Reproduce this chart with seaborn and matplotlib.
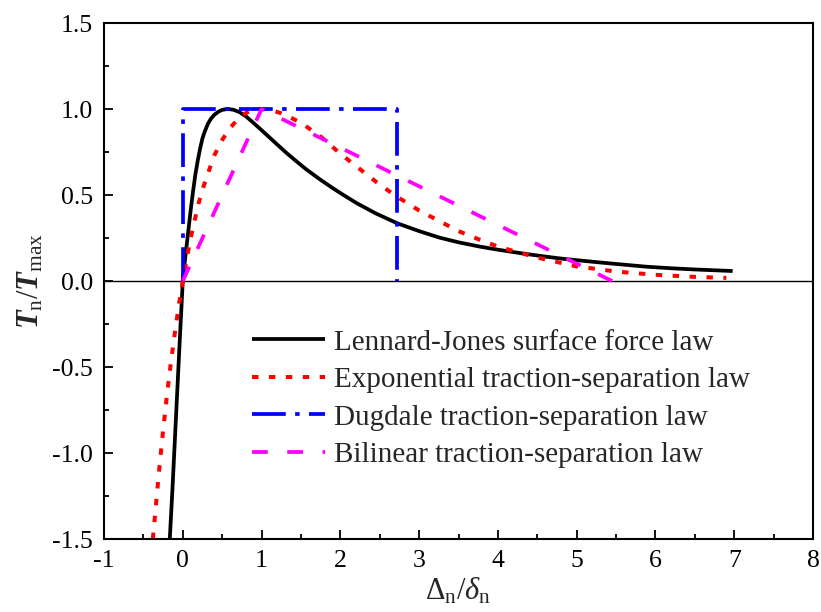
import matplotlib
matplotlib.use("Agg")
import matplotlib.pyplot as plt
import seaborn as sns
import pandas as pd
from matplotlib.ticker import MultipleLocator

# ---- data ----
lj_x = [-0.165, -0.13, -0.10, -0.07, -0.04, -0.02, 0.0, 0.03, 0.05, 0.08, 0.10, 0.13, 0.16,
        0.19, 0.22, 0.25, 0.28, 0.32, 0.36, 0.40, 0.45, 0.50, 0.57, 0.64, 0.72, 0.80, 0.89,
        1.00, 1.10, 1.20, 1.32, 1.45, 1.57, 1.75, 1.90, 2.05, 2.21, 2.45, 2.72, 3.00,
        3.26, 3.50, 3.77, 4.00, 4.30, 4.60, 4.83, 5.20, 5.50, 5.89, 6.20, 6.50, 6.98]
lj_y = [-1.50, -1.20, -0.92, -0.64, -0.36, -0.18, 0.0, 0.13, 0.21, 0.33, 0.41, 0.52, 0.62,
        0.70, 0.77, 0.83, 0.87, 0.915, 0.945, 0.966, 0.984, 0.995, 1.00, 0.996, 0.982, 0.958, 0.922,
        0.877, 0.835, 0.793, 0.743, 0.693, 0.648, 0.588, 0.541, 0.497, 0.452, 0.393, 0.336, 0.29,
        0.252, 0.225, 0.20, 0.182, 0.161, 0.142, 0.129, 0.112, 0.099, 0.083, 0.074, 0.067, 0.058]

exp_x = [-0.38, -0.34, -0.30, -0.25, -0.20, -0.15, -0.10, -0.05, 0.0, 0.05, 0.10, 0.15, 0.20,
         0.25, 0.30, 0.40, 0.50, 0.60, 0.70, 0.80, 0.87, 0.94, 1.00, 1.07, 1.15, 1.25, 1.37, 1.50,
         1.75, 2.00, 2.25, 2.50, 2.72, 3.00, 3.25, 3.50, 3.77, 4.00, 4.50, 5.00, 5.50, 6.00,
         6.50, 6.90]
exp_y = [-1.50, -1.30, -1.10, -0.87, -0.66, -0.47, -0.30, -0.14, 0.0, 0.13, 0.25, 0.35, 0.45,
         0.53, 0.60, 0.73, 0.82, 0.89, 0.94, 0.976, 0.992, 0.999, 1.00, 0.998, 0.99, 0.975, 0.95,
         0.92, 0.84, 0.74, 0.65, 0.56, 0.49, 0.41, 0.35, 0.29, 0.24, 0.20, 0.136, 0.085, 0.055,
         0.036, 0.024, 0.018]

dug_x = [0.0, 0.0, 2.72, 2.72]
dug_y = [0.0, 1.0, 1.0, 0.0]

bil_x = [0.0, 1.0, 5.45]
bil_y = [0.0, 1.0, 0.0]

labels = ["Lennard-Jones surface force law",
          "Exponential traction-separation law",
          "Dugdale traction-separation law",
          "Bilinear traction-separation law"]
x_ticks = [-1, 0, 1, 2, 3, 4, 5, 6, 7, 8]
y_ticks = [-1.5, -1.0, -0.5, 0.0, 0.5, 1.0, 1.5]

# ---- style ----
sns.set_theme(style="ticks")
plt.rcParams["font.family"] = ["Liberation Serif", "DejaVu Serif"]
plt.rcParams["mathtext.fontset"] = "custom"
plt.rcParams["mathtext.rm"] = "Liberation Serif"
plt.rcParams["mathtext.it"] = "Liberation Serif:italic"
plt.rcParams["mathtext.bf"] = "Liberation Serif:bold"
plt.rcParams["mathtext.bfit"] = "Liberation Serif:bold:italic"
plt.rcParams["axes.unicode_minus"] = False

fig = plt.figure(figsize=(8.21, 6.12), dpi=100)
ax = fig.add_axes([104/821, 1 - 539/612, (813-104)/821, (539-23)/612])

ax.axhline(0, color="black", lw=1.0, zorder=1)

def draw(x, y, color, ls, lw, label):
    df = pd.DataFrame({"x": x, "y": y})
    sns.lineplot(data=df, x="x", y="y", ax=ax, sort=False, estimator=None,
                 color=color, lw=lw, label=label)
    ln = ax.get_lines()[-1]
    ln.set_linestyle(ls)
    ln.set_solid_capstyle("butt")
    ln.set_dash_capstyle("butt")
    return ln

h1 = draw(lj_x, lj_y, "black", "-", 2.7, labels[0])
h2 = draw(exp_x, exp_y, "#ff0000", (0, (1.6, 2.6)), 2.9, labels[1])
h3 = draw(dug_x, dug_y, "#0000ff", (0, (9, 2.5, 1.2, 2.5)), 2.7, labels[2])
h4 = draw(bil_x, bil_y, "#ff00ff", (0, (4.2, 5.2)), 2.7, labels[3])

ax.set_xlim(-1, 8)
ax.set_ylim(-1.5, 1.5)
ax.set_xticks(x_ticks)
ax.set_xticklabels([str(t) for t in x_ticks])
ax.set_yticks(y_ticks)
ax.set_yticklabels([f"{t:.1f}" for t in y_ticks])
ax.xaxis.set_minor_locator(MultipleLocator(0.5))
ax.yaxis.set_minor_locator(MultipleLocator(0.25))
ax.tick_params(which="both", direction="in", top=False, right=False,
               colors="black", width=1.3)
ax.tick_params(which="major", length=6.5, labelsize=18.5, pad=8)
ax.tick_params(which="minor", length=3.5)
for s in ax.spines.values():
    s.set_visible(True)
    s.set_linewidth(1.5)
    s.set_color("black")

ax.set_xlabel(r"$\Delta_\mathrm{n}/\delta_\mathrm{n}$", fontsize=22, labelpad=3)
ax.set_ylabel(r"$\mathbfit{T}_\mathrm{n}/\mathbfit{T}_\mathrm{max}$", fontsize=22, labelpad=5)

ax.legend(handles=[h1, h2, h3, h4], labels=labels, loc="center",
          bbox_to_anchor=(0.560, 0.272), frameon=False, fontsize=21,
          handlelength=2.5, handletextpad=0.28, labelspacing=0.38)

fig.savefig("out.png", dpi=100)
